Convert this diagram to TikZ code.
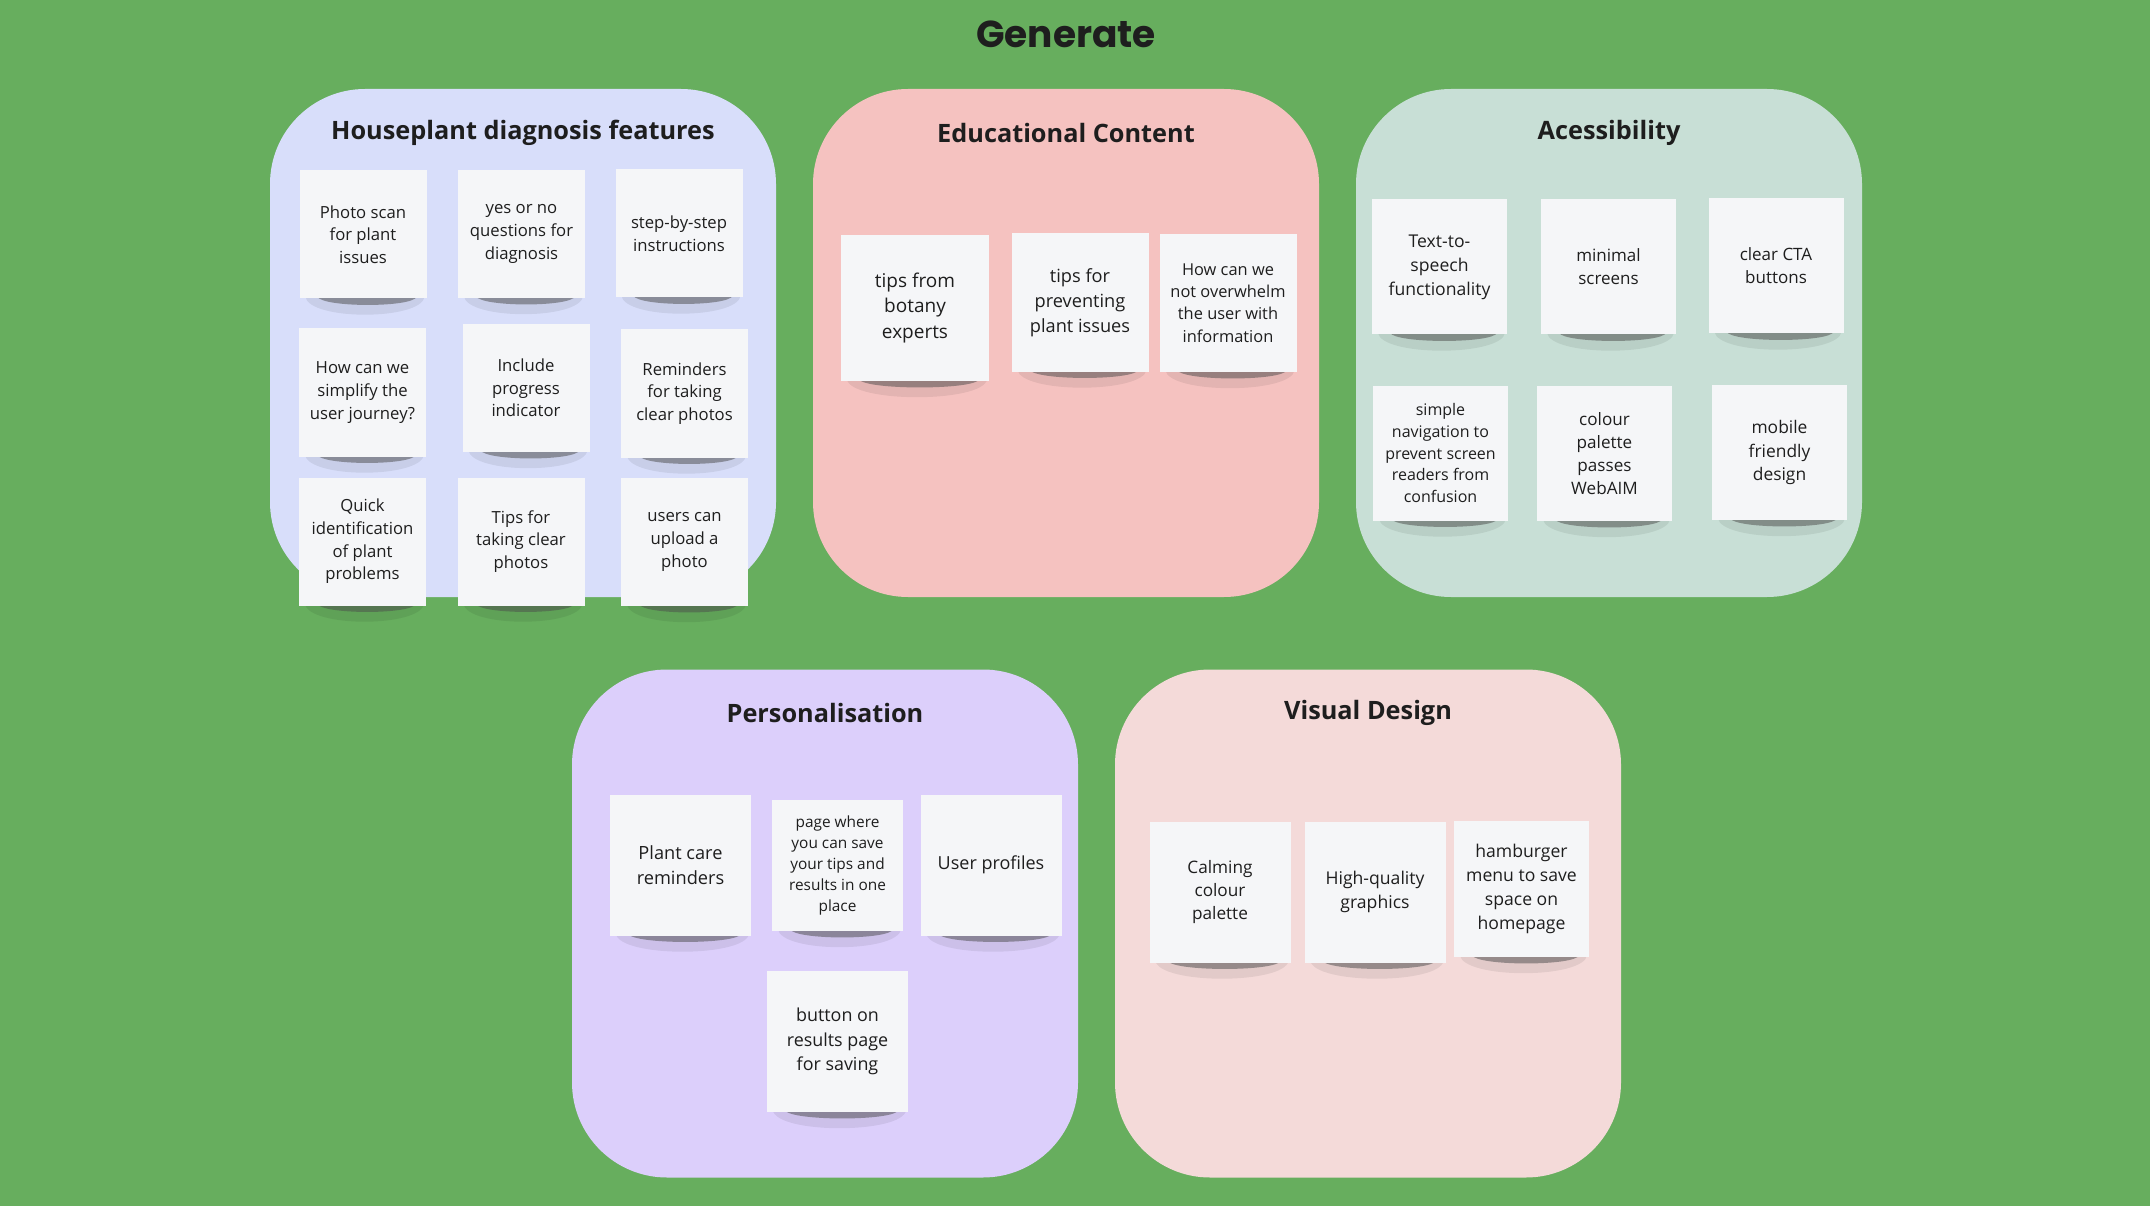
\documentclass[tikz,border=0pt]{standalone}
\usepackage{fontspec}
\setmainfont{Open Sans}
\newfontfamily\brandfont{Poppins}
\usepackage{tikz}
\usetikzlibrary{positioning, calc}

\definecolor{bggreen}{HTML}{67AE5E}
\definecolor{houseblue}{HTML}{D8DEFA}
\definecolor{edupink}{HTML}{F5C2C0}
\definecolor{accessmint}{HTML}{C8DFD6}
\definecolor{personlilac}{HTML}{DCCFFB}
\definecolor{visualrose}{HTML}{F4DAD9}
\definecolor{paper}{HTML}{F5F6F8}
\definecolor{ink}{HTML}{1E1E1E}

\pgfdeclarelayer{back}
\pgfdeclarelayer{shade}
\pgfsetlayers{back,shade,main}

\begin{document}
\begin{tikzpicture}[x=1pt, y=-1pt]
	\tikzstyle{group} = [rounded corners=95pt, minimum width=506pt, minimum height=508pt,
	inner sep=0pt]
	\tikzstyle{heading} = [text=ink, font=\fontsize{25.3}{30}\selectfont\bfseries]
	\tikzstyle{note} = [fill=paper, text=ink, align=center, inner sep=0pt]
	\tikzstyle{halo} = [fill=black, opacity=.07]
	\tikzstyle{shadow} = [fill=black!70, opacity=.5]
	\tikzset{notefont/.style={font=\fontsize{#1}{\fpeval{1.36*#1}}\selectfont}}

	\useasboundingbox (0,0) rectangle (2150,1206);
	\begin{pgfonlayer}{back}
		\fill[bggreen] (0,0) rectangle (2150,1206);
		\path
			node[group, fill=houseblue] (house) at (523,343) {}
			node[group, fill=edupink] (edu) at (1066,343) {}
			node[group, fill=accessmint] (access) at (1609,343) {}
			node[group, fill=personlilac] (person) at (825,923.5) {}
			node[group, fill=visualrose] (visual) at (1368,923.5) {}
		;
	\end{pgfonlayer}

	\node[text=ink, font=\brandfont\fontsize{37.5}{42}\selectfont\bfseries] (generate) at (1066,34) {Generate};

	\path
		node[heading] (househead) at (523,133) {Houseplant diagnosis features}
		node[heading] (eduhead) at (1066,133) {Educational Content}
		node[heading] (accesshead) at (1609,133) {Acessibility}
		node[heading] (personhead) at (825,713) {Personalisation}
		node[heading] (visualhead) at (1368,713) {Visual Design}
	;

	% houseplant diagnosis
	\begin{scope}[note/.append style={minimum width=127pt, minimum height=128pt, notefont=16.7}]
		\path
			node[note] (h1) at (363,234.5) {Photo scan\\for plant\\issues}
			node[note] (h2) at (521.5,234) {yes or no\\questions for\\diagnosis}
			node[note] (h3) at (679,233.5) {step-by-step\\instructions}
			node[note] (h4) at (362.5,392.5) {How can we\\simplify the\\user journey?}
			node[note] (h5) at (526,388) {Include\\progress\\indicator}
			node[note] (h6) at (684.5,393.5) {Reminders\\for taking\\clear photos}
			node[note] (h7) at (362.5,541.5) {Quick\\identification\\of plant\\problems}
			node[note] (h8) at (521,541.5) {Tips for\\taking clear\\photos}
			node[note] (h9) at (684.5,542) {users can\\upload a\\photo}
		;
	\end{scope}

	% educational content
	\begin{scope}[note/.append style={minimum width=137pt, minimum height=138pt}]
		\path
			node[note, minimum width=148pt, minimum height=146pt, notefont=19] (e1) at (915,308) {tips from\\botany\\experts}
			node[note, notefont=18.2] (e2) at (1080,302.5) {tips for\\preventing\\plant issues}
			node[note, notefont=16.4] (e3) at (1228,303) {How can we\\not overwhelm\\the user with\\information}
		;
	\end{scope}

	% accessibility
	\begin{scope}[note/.append style={minimum width=135pt, minimum height=135pt}]
		\path
			node[note, notefont=17.6] (a1) at (1439.5,267) {Text-to-\\speech\\functionality}
			node[note, notefont=17] (a2) at (1608.5,267) {minimal\\screens}
			node[note, notefont=17] (a3) at (1776,266) {clear CTA\\buttons}
			node[note, notefont=16] (a4) at (1440.5,453) {simple\\navigation to\\prevent screen\\readers from\\confusion}
			node[note, notefont=17.1] (a5) at (1604.5,453.5) {colour\\palette\\passes\\WebAIM}
			node[note, notefont=17.4] (a6) at (1779.5,452.5) {mobile\\friendly\\design}
		;
	\end{scope}

	% personalisation
	\begin{scope}[note/.append style={minimum width=141pt, minimum height=141pt}]
		\path
			node[note, notefont=18.2] (p1) at (680.5,865) {Plant care\\reminders}
			node[note, minimum width=131pt, minimum height=131pt, notefont=15.4] (p2) at (837.5,865.5) {page where\\you can save\\your tips and\\results in one\\place}
			node[note, notefont=18] (p3) at (991,865) {User profiles}
			node[note, notefont=17.9] (p4) at (837.5,1041.5) {button on\\results page\\for saving}
		;
	\end{scope}

	% visual design
	\begin{scope}[note/.append style={minimum width=141pt, minimum height=141pt}]
		\path
			node[note, notefont=17.2] (v1) at (1220,892) {Calming\\colour\\palette}
			node[note, notefont=17.6] (v2) at (1375,892) {High-quality\\graphics}
			node[note, minimum width=135pt, minimum height=136pt, notefont=17.6] (v3) at (1521.5,889) {hamburger\\menu to save\\space on\\homepage}
		;
	\end{scope}

	% curled-paper shadows under every note
	\begin{pgfonlayer}{shade}
		\foreach \n in {h1,h2,h3,h4,h5,h6,h7,h8,h9,e1,e2,e3,a1,a2,a3,a4,a5,a6,p1,p2,p3,p4,v1,v2,v3} {
			\fill[halo] ($(\n.south west)+(6,-2)$) -- ($(\n.south east)+(-2,-2)$)
				.. controls ($(\n.south east)+(-6,22)$) and ($(\n.south west)+(10,22)$) .. cycle;
			\fill[shadow] ($(\n.south west)+(18,-2)$) -- ($(\n.south east)+(-10,-2)$)
				.. controls ($(\n.south east)+(-14,9)$) and ($(\n.south west)+(24,9)$) .. cycle;
		}
	\end{pgfonlayer}
\end{tikzpicture}
\end{document}
